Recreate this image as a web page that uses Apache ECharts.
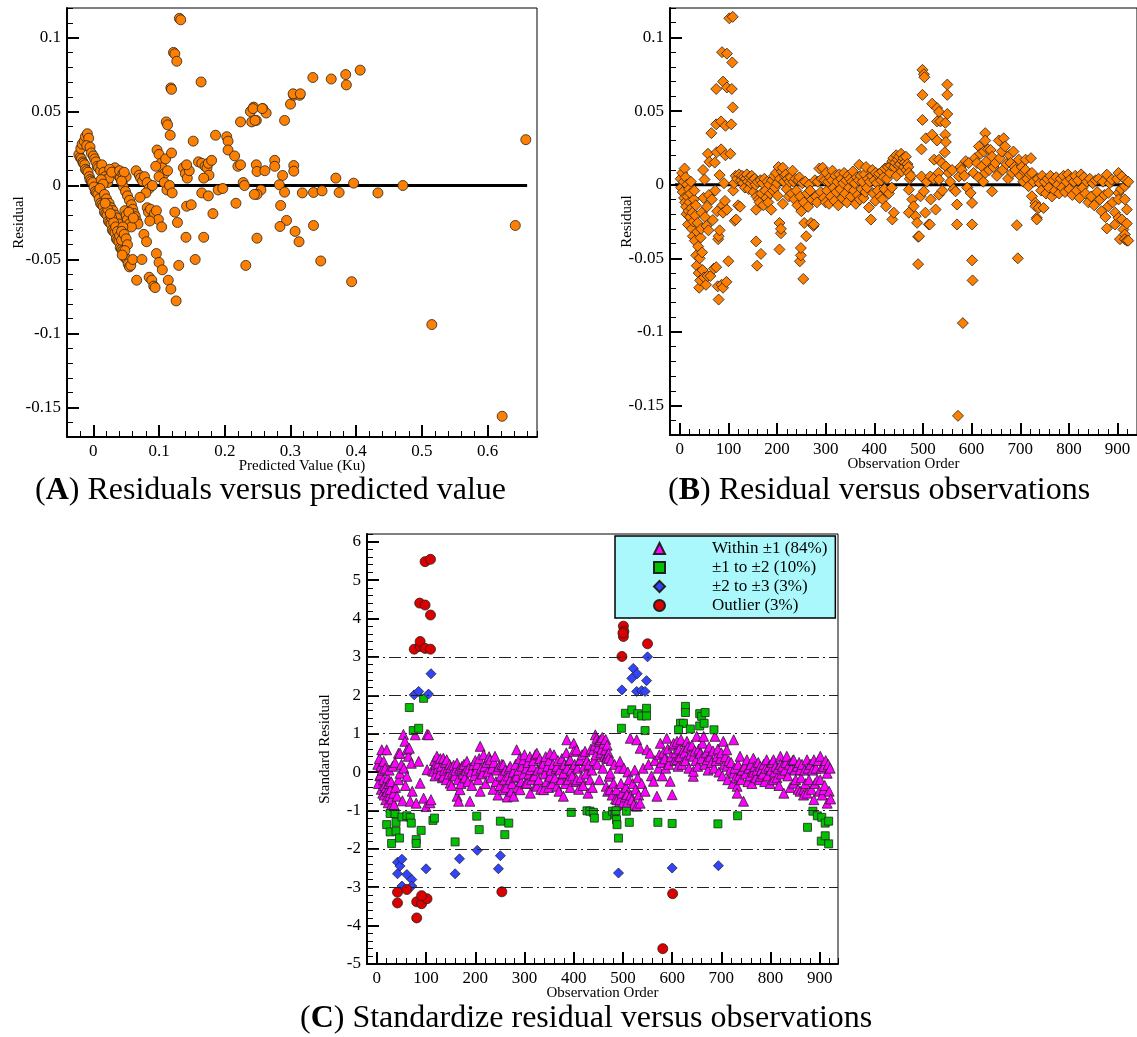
<!DOCTYPE html>
<html><head><meta charset="utf-8">
<script src="https://cdn.jsdelivr.net/npm/echarts@6/dist/echarts.min.js"></script>
<style>html,body{margin:0;padding:0;background:#fff}#c{width:1137px;height:1037px}</style>
</head><body><div id="c"></div>
<script>
// ---------- DATA ----------
// Panel A: [predicted value, residual]
const panelA = [
[-0.022,0.021],[-0.02,0.019],[-0.018,0.018],[-0.016,0.016],[-0.015,0.015],[-0.013,0.014],[-0.012,0.011],[-0.01,0.01],[-0.008,0.009],[-0.006,0.006],[-0.005,0.004],[-0.003,0.003],[-0.001,0.002],[0.001,-0.001],[0.003,-0.004],[0.005,-0.005],[0.007,-0.006],[0.009,-0.009],[0.011,-0.012],[0.013,-0.013],[0.015,-0.014],[0.017,-0.018],[0.019,-0.019],[0.021,-0.02],[0.023,-0.024],[0.025,-0.025],[0.027,-0.026],[0.029,-0.03],[0.031,-0.031],[0.033,-0.032],[0.035,-0.036],[0.037,-0.037],[0.039,-0.038],[0.041,-0.042],[0.043,-0.043],[0.045,-0.044],[0.047,-0.048],[0.049,-0.049],[0.051,-0.05],[0.053,-0.053],[0.055,-0.055],[0.057,-0.054],
[-0.019,0.025],[-0.017,0.028],[-0.014,0.03],[-0.012,0.033],[-0.009,0.035],[-0.007,0.032],[-0.01,0.027],[-0.005,0.026],[-0.003,0.022],[0,0.02],[0.002,0.018],[0.004,0.016],[0.006,0.013],[0.008,0.012],[0.011,0.01],[0.013,0.014],[0.016,0.009],[0.018,0.006],[0.02,0.004],[0.022,0.002],[0.024,0.005],[0.012,0.004],[0.015,0.001],[0.01,-0.002],[0.017,-0.006],[0.02,-0.009],[0.024,-0.012],[0.027,-0.015],[0.03,-0.017],[0.033,-0.02],[0.036,-0.022],[0.039,-0.026],[0.028,-0.022],[0.031,-0.025],[0.034,-0.028],[0.037,-0.031],[0.04,-0.034],[0.043,-0.037],[0.022,-0.016],[0.026,-0.019],[0.018,-0.012],
[0.033,0.012],[0.036,0.009],[0.038,0.007],[0.041,0.005],[0.044,0.002],[0.046,-0.001],[0.049,-0.004],[0.052,-0.007],[0.055,-0.01],[0.058,-0.013],[0.06,-0.016],[0.062,-0.019],[0.064,-0.021],[0.066,-0.024],[0.068,-0.026],
[0.025,0.011],[0.028,0.009],[0.04,0.01],[0.045,0.008],[0.05,0.006],[0.047,0.009],[0.043,0.003],
[0.048,-0.017],[0.05,-0.02],[0.052,-0.023],[0.055,-0.026],[0.058,-0.028],[0.054,-0.018],[0.061,-0.022],[0.045,-0.028],[0.043,-0.031],[0.047,-0.033],[0.05,-0.036],[0.052,-0.04],[0.048,-0.044],[0.044,-0.047],[0.06,-0.05],[0.066,-0.064],[0.074,-0.05],
[0.065,0.01],[0.07,0.007],[0.072,0.005],[0.075,0.003],[0.078,0.006],[0.082,0.002],[0.085,-0.002],[0.08,-0.005],[0.09,0.0],[0.071,-0.008],
[0.077,-0.033],[0.081,-0.038],[0.082,-0.015],[0.084,-0.018],[0.087,-0.016],[0.09,-0.022],[0.093,-0.019],[0.096,-0.017],[0.099,-0.023],[0.104,-0.028],[0.086,-0.024],[0.085,-0.062],[0.089,-0.064],[0.092,-0.068],[0.094,-0.069],[0.096,-0.046],[0.1,-0.052],[0.105,-0.057],[0.114,-0.064],[0.118,-0.07],[0.126,-0.078],
[0.097,0.024],[0.1,0.021],[0.103,0.015],[0.105,0.012],[0.108,0.008],[0.11,0.018],[0.113,0.01],[0.1,0.006],[0.095,0.013],[0.108,0.002],[0.112,-0.003],[0.116,0.0],[0.12,-0.005],[0.111,0.043],[0.113,0.041],[0.117,0.034],[0.119,0.022],[0.118,0.066],[0.119,0.065],[0.122,0.09],[0.124,0.089],[0.127,0.084],[0.131,0.113],[0.133,0.112],[0.124,-0.018],[0.128,-0.025],[0.13,-0.054],
[0.137,0.012],[0.14,0.008],[0.143,0.005],[0.146,0.01],[0.142,0.014],[0.152,0.03],[0.164,0.07],[0.16,0.016],[0.165,0.015],[0.17,0.013],[0.173,0.012],[0.176,0.007],[0.168,0.005],[0.175,0.015],[0.18,0.017],[0.186,0.034],[0.142,-0.014],[0.149,-0.013],[0.141,-0.035],[0.155,-0.05],[0.168,-0.035],[0.182,-0.019],[0.165,-0.005],[0.175,-0.007],[0.19,-0.003],[0.197,-0.002],
[0.203,0.033],[0.205,0.03],[0.205,0.024],[0.215,0.02],[0.22,0.013],[0.224,0.014],[0.224,0.043],[0.228,0.002],[0.23,0.0],[0.239,0.05],[0.244,0.053],[0.248,0.044],[0.258,0.052],[0.263,0.049],[0.241,0.043],[0.246,0.044],[0.243,0.052],[0.257,0.052],[0.248,0.014],[0.249,0.0095],[0.261,0.01],[0.276,0.017],[0.276,0.013],[0.288,0.0068],[0.283,0.0005],[0.255,-0.003],[0.249,-0.006],[0.291,-0.0045],[0.217,-0.012],[0.232,-0.054],[0.249,-0.0356],[0.245,-0.006],[0.285,-0.0135],[0.294,-0.0236],[0.284,-0.0277],[0.291,0.044],[0.3,0.055],
[0.305,0.061],[0.314,0.061],[0.304,0.062],[0.315,0.062],[0.305,0.0135],[0.305,0.0097],[0.307,-0.031],[0.313,-0.038],[0.318,-0.005],[0.335,-0.0047],[0.335,-0.027],[0.334,0.073],[0.346,-0.051],[0.348,-0.0036],[0.362,0.072],[0.369,0.005],[0.374,-0.0047],[0.384,0.075],[0.385,0.068],[0.393,-0.065],[0.396,0.0016],[0.406,0.078],[0.433,-0.005],[0.471,0.0],[0.515,-0.094],[0.622,-0.156],[0.642,-0.027],[0.658,0.031]
];
const zeroLineA = [[-0.02,0],[0.66,0]];

// Panel B: [observation order, residual]
const panelB = [
[2,0.004],[3,-0.002],[5,0.008],[6,-0.005],[8,0.002],[9,-0.009],[10,0.011],[11,-0.012],[12,0.005],[13,-0.015],[14,-0.02],[15,0.0],[16,-0.008],[17,-0.027],[18,-0.018],[19,-0.003],[20,-0.012],[21,-0.022],[22,-0.006],[23,0.002],[24,-0.016],[25,-0.03],[26,-0.019],[27,-0.035],[28,-0.025],[29,-0.01],[30,-0.004],[31,-0.038],[32,-0.021],[33,-0.014],[34,-0.048],[35,-0.055],[36,-0.032],[37,-0.026],[38,-0.042],[39,-0.06],[40,-0.07],[41,-0.05],[42,-0.065],[43,-0.036],[44,-0.03],[45,-0.019],[46,-0.046],[47,-0.058],[48,0.01],[49,-0.009],[50,-0.063],[51,0.0035],[52,-0.022],[54,-0.068],[55,-0.028],[56,-0.015],[57,-0.062],[58,0.021],[59,-0.031],[60,-0.007],
[61,0.0155],[63,-0.062],[65,0.035],[66,-0.01],[68,-0.024],[70,-0.057],[72,0.015],[73,-0.004],[75,0.041],[75,0.065],[75,-0.056],[76,0.022],[77,-0.018],[78,-0.069],[79,-0.037],[80,-0.035],[80,-0.078],[82,0.0065],[82,-0.031],[85,0.043],[85,0.024],[86,-0.068],[87,0.09],[88,-0.014],[89,0.07],[89,-0.019],[89,-0.07],[91,0.001],[93,-0.011],[94,0.04],[94,0.02],[96,-0.066],[97,0.089],[97,0.066],[97,-0.017],[100,-0.052],[102,0.113],[104,0.021],[106,0.041],[107,0.065],[108,0.083],[109,0.114],[109,0.0525],[110,-0.004],[112,0.001],[113,-0.0245],[115,0.006],[116,-0.0236],[118,0.004],[120,-0.014],[122,0.007],[124,-0.015],
[126,0.003],[128,0.006],[130,0.001],[132,0.005],[134,-0.002],[136,0.004],[138,0.007],[140,0.002],[142,-0.003],[144,0.005],[146,0.001],[148,0.006],[150,0.003],[152,-0.005],[154,0.004],[156,0.0],[157,-0.017],[157,-0.0385],[158,-0.008],[159,-0.055],[160,0.002],[162,-0.01],[164,-0.012],[166,0.003],[167,-0.047],[168,-0.006],[170,0.001],[172,-0.014],[174,0.004],[176,-0.004],[178,-0.009],[180,0.002],[182,-0.012],[184,0.0],[186,-0.006],[188,-0.017],[190,0.003],[192,-0.004],[194,0.006],[196,-0.002],[198,0.008],[200,0.001],[201,-0.0075],[203,0.012],[205,-0.026],[205,-0.044],[206,0.004],[208,-0.033],[208,-0.03],[210,0.009],[212,-0.013],[212,0.0115],[214,0.002],[216,0.006],[218,0.007],[220,-0.003],[222,0.004],[224,-0.008],[226,0.002],[228,0.005],
[230,-0.006],[232,0.0095],[234,0.002],[236,-0.01],[238,0.004],[240,-0.004],[242,-0.014],[244,0.003],[246,0.005],[247,-0.052],[248,-0.008],[249,-0.048],[249,-0.043],[250,-0.018],[252,0.001],[254,-0.064],[255,-0.012],[256,-0.026],[258,0.002],[260,-0.035],[262,-0.006],[264,-0.015],[266,0.0],[268,-0.004],[270,-0.026],[272,-0.01],[275,-0.028],[276,-0.027],[278,0.003],[280,-0.008],[282,-0.012],[284,0.002],[287,0.011],[290,-0.005],[292,0.004],[294,0.0115],[296,-0.009],[298,0.003],[300,-0.012],
[301,0.008],[303,-0.004],[305,0.002],[307,-0.013],[309,0.005],[311,-0.008],[313,0.003],[314,0.0095],[316,-0.002],[318,-0.011],[320,0.006],[322,-0.005],[324,0.002],[326,-0.014],[328,0.007],[330,-0.003],[332,0.004],[334,-0.009],[336,0.001],[338,0.008],[340,-0.006],[342,0.003],[344,-0.012],[346,0.006],[348,-0.002],[350,0.004],[352,-0.008],[354,0.002],[356,0.009],[358,-0.004],[360,0.001],[362,-0.013],[364,0.005],[366,-0.007],[368,0.003],[369,0.0135],[370,-0.01],[372,0.006],[374,-0.003],[376,0.002],[378,-0.009],[380,0.007],[382,-0.005],[383,0.012],[385,-0.002],[387,0.004],[389,-0.0155],[391,0.002],[393,-0.0237],[395,0.006],[396,0.01],[398,-0.006],[400,0.003],[402,-0.011],[403,0.008],[405,0.001],[407,-0.004],[409,0.006],[410,0.0075],[412,-0.008],[414,0.003],[416,0.009],[417,-0.01],[419,0.005],[421,-0.003],[422,0.011],[424,-0.0147],[426,0.004],[428,0.012],[430,-0.006],[432,0.008],[434,0.013],[436,-0.002],[437,0.016],[437,-0.0236],[439,0.018],[440,-0.019],
[441,0.012],[443,0.015],[445,0.02],[446,0.006],[448,0.017],[450,0.013],[451,0.019],[453,0.014],[455,0.021],[456,0.009],[458,0.016],[460,0.018],[461,0.012],[463,0.015],[465,0.019],[466,0.01],[468,0.014],[470,0.012],[471,0.008],[471,-0.0034],[471,-0.019],[473,0.004],[475,0.006],[478,-0.01],[481,-0.0147],[485,-0.0214],[488,-0.0259],[490,-0.0354],[490,-0.054],[492,-0.035],
[495,-0.0079],[497,0.024],[497,0.0056],[499,0.078],[499,0.061],[499,0.044],[502,0.075],[502,-0.0045],[503,0.073],[505,-0.019],[506,0.0315],[508,0.002],[512,-0.027],[514,-0.027],[515,0.0056],[516,-0.01],[519,0.055],[519,0.034],[522,0.004],[523,0.017],[526,-0.0169],[529,0.052],[529,0.043],[529,0.03],[532,0.008],[533,0.0495],[533,0.017],[533,0.0034],[533,-0.0068],[536,0.043],[539,0.0147],[540,-0.004],[545,0.022],[546,0.034],[546,0.042],[547,0.029],[547,0.0124],[550,0.068],[550,0.061],[550,0.048],[553,0.008],[556,0.002],[560,0.01],
[563,-0.003],[567,-0.0045],[570,-0.0135],[570,-0.027],[572,-0.157],[574,0.0056],[577,0.012],[580,0.01],[582,-0.094],[585,0.006],[588,0.016],[591,-0.002],[594,0.0147],[598,-0.0056],[601,-0.0124],[601,-0.027],[601,-0.0514],[602,-0.065],[604,0.008],[607,0.018],[611,0.0147],[614,0.005],[615,0.026],[618,0.021],[621,0.0124],[624,0.002],[625,0.0225],[628,0.035],[628,0.03],[628,0.008],[631,0.016],[634,0.024],[636,0.01],[639,0.0236],[642,0.019],[642,-0.0045],[645,0.012],[649,0.0147],[652,0.006],[656,0.03],[658,0.018],[662,0.0225],[664,0.01],[666,0.0315],[669,0.026],[672,0.014],[675,0.004],[678,0.02],[680,0.0147],[683,0.008],[686,0.0225],[688,0.012],[690,0.01],[693,-0.0275],[695,-0.05],[697,0.017],[700,0.006],[703,0.012],[706,0.002],[708,0.009],[711,0.017],[711,0.01],[714,0.004],[717,-0.001],[720,0.007],
[722,0.018],[724,0.008],[724,-0.0079],[727,0.002],[731,-0.0124],[731,-0.0146],[734,-0.0225],[734,-0.0236],[736,0.004],[738,-0.0157],[740,0.001],[743,-0.004],[745,0.006],[748,-0.0158],[750,0.002],[753,-0.006],[756,0.004],[759,-0.002],[762,0.006],[765,-0.008],[768,0.003],[771,-0.004],[774,0.005],[777,0.0],[780,-0.006],[783,0.004],[786,-0.002],[789,0.006],[792,-0.005],[795,0.002],[798,0.007],[801,-0.003],[804,0.004],[807,-0.007],[810,0.002],[813,0.006],[816,-0.004],[819,0.003],[822,-0.009],[825,0.007],[828,-0.002],[831,0.005],[834,-0.006],[837,0.002],[840,-0.012],[843,0.004],[846,-0.008],[849,0.001],[852,-0.014],[855,0.003],[858,-0.005],
[861,0.004],[864,-0.01],[867,-0.018],[870,0.002],[873,-0.007],[875,-0.022],[878,0.0068],[878,-0.0297],[881,-0.0147],[881,-0.0056],[884,0.001],[888,0.0034],[890,-0.012],[895,-0.019],[895,-0.027],[899,0.004],[902,0.008],[902,-0.0056],[902,-0.01],[902,-0.0225],[905,-0.037],[907,-0.003],[909,0.0056],[909,-0.0236],[912,-0.0304],[915,-0.001],[915,-0.01],[915,-0.0338],[915,-0.037],[917,0.003],[919,-0.0169],[919,-0.0264],[919,-0.038],[922,-0.038],[922,0.002]
];
const zeroLineB = [[-10,0],[920,0]];

// Panel C: [observation order, standard residual], grouped by band
const cWithin1 = [
[2,0.2],[3,-0.3],[5,0.35],[6,-0.1],[7,-0.07],[8,0.15],[9,-0.45],[10,0.58],[11,0.05],[12,-0.55],[13,-0.2],[14,0.28],[15,-0.6],[16,-0.35],[17,0.1],[18,-0.72],[19,-0.4],[20,0.58],[21,-0.5],[22,-0.15],[23,-0.8],[24,-0.3],[25,0.05],[26,-0.62],[27,-0.45],[28,-0.9],[29,-0.25],[30,-0.7],[32,0.15],[34,-0.55],[35,-0.85],[37,0.25],[38,-0.4],[41,-0.63],[44,0.49],[44,-0.2],[47,-0.03],[47,0.49],[50,0.2],[52,-0.75],[54,0.98],[55,0.1],[57,0.8],[58,-0.35],[61,0.58],[61,-0.11],[64,0.41],[66,0.62],[68,-0.76],[70,0.23],[72,-0.5],[78,0.97],[80,-0.81],[85,0.28],[88,-0.29],[95,-0.68],[100,-0.9],[102,0.98],[102,0.06],[105,0.97],[108,-0.8],[110,-0.72],
[112,0.05],[115,0.02],[117,0.3],[118,-0.1],[120,0.2],[122,0.41],[124,0.1],[125,0.23],[127,-0.05],[129,0.35],[131,0.15],[133,-0.15],[135,0.36],[135,-0.11],[137,0.05],[139,0.25],[141,-0.2],[142,0.32],[144,0.1],[146,-0.05],[148,0.2],[149,-0.29],[150,0.12],[152,-0.35],[154,0.0],[156,0.18],[158,-0.1],[160,0.05],[163,0.23],[163,-0.63],[165,-0.2],[166,-0.76],[168,0.1],[169,-0.46],[171,-0.3],[173,0.15],[175,-0.05],[177,0.2],[179,-0.15],[181,0.05],[183,0.28],[185,-0.25],[187,0.1],[189,-0.76],[191,0.0],[193,-0.35],[196,0.19],[198,-0.1],[200,0.3],[202,0.05],[204,0.2],[206,-0.2],[208,0.35],[210,0.67],[210,-0.5],[212,0.1],[214,-0.05],[217,0.45],[219,0.15],[221,-0.3],[223,0.25],[225,0.0],[228,0.4],[230,0.32],
[232,-0.15],[234,0.1],[236,-0.45],[238,0.25],[240,0.41],[242,-0.25],[244,0.05],[246,-0.6],[248,0.15],[250,-0.35],[252,-0.1],[254,0.2],[257,0.19],[257,-0.46],[259,-0.2],[261,0.05],[263,-0.4],[265,-0.65],[267,-0.1],[269,0.1],[271,0.15],[271,-0.2],[273,-0.5],[275,-0.3],[277,0.0],[278,-0.63],[280,-0.15],[282,0.2],[284,0.58],[284,-0.11],[286,-0.4],[288,0.05],[290,0.35],[291,-0.46],[293,-0.25],[295,0.15],[298,0.32],[298,-0.05],
[300,0.45],[302,-0.3],[304,0.1],[305,-0.29],[307,0.25],[309,-0.05],[311,0.4],[312,0.06],[312,-0.55],[314,-0.2],[316,0.15],[318,0.3],[320,-0.1],[322,0.45],[323,-0.35],[325,0.49],[325,-0.37],[327,0.05],[329,-0.2],[331,0.35],[333,-0.45],[335,0.1],[337,0.25],[339,0.23],[339,-0.46],[341,-0.05],[343,0.4],[345,-0.25],[347,0.15],[349,-0.4],[350,0.3],[352,-0.11],[352,0.49],[354,0.05],[356,-0.3],[358,0.2],[360,0.45],[362,-0.15],[364,0.1],[366,-0.37],[366,0.15],[368,0.3],[370,-0.5],[372,0.05],[374,-0.2],[376,0.35],[378,-0.05],[379,-0.63],[379,-0.03],[381,0.2],[383,-0.3],[385,0.5],[386,0.84],[387,0.1],[389,-0.2],[391,0.3],[393,0.32],[393,-0.4],[395,0.05],[397,-0.1],[400,0.75],[400,0.54],[402,0.2],[404,-0.25],[406,0.58],[406,-0.2],[408,0.1],[410,-0.45],[412,0.3],[413,0.32],[415,-0.15],[417,0.45],[419,-0.35],[421,0.15],[423,0.54],[425,-0.05],[427,0.3],[429,-0.55],[431,0.2],[433,-0.2],[435,0.6],[437,0.05],[438,-0.4],
[440,0.58],[441,0.3],[443,0.7],[444,0.97],[445,0.45],[447,0.88],[448,0.2],[450,0.65],[451,0.8],[452,-0.2],[454,0.84],[455,0.5],[457,0.6],[458,0.9],[459,0.1],[461,0.75],[462,0.4],[464,0.58],[465,0.85],[466,-0.37],[467,0.41],[467,0.36],[468,0.7],[469,-0.5],[471,0.49],[471,0.36],[472,-0.11],[474,-0.03],[474,-0.46],[476,0.3],[478,-0.6],[481,-0.29],[483,0.2],[485,-0.7],[487,-0.46],[488,-0.72],[490,-0.85],[492,0.1],
[494,0.28],[494,-0.72],[496,-0.3],[498,-0.55],[500,-0.8],[502,0.1],[504,-0.65],[506,-0.4],[508,-0.59],[508,-0.81],[510,0.0],[512,-0.2],[515,0.88],[516,-0.6],[518,-0.72],[520,-0.3],[522,-0.85],[524,0.05],[526,-0.45],[528,0.84],[528,-0.89],[530,-0.15],[532,-0.6],[535,0.62],[535,-0.81],[538,-0.3],[541,0.1],[545,-0.5],[549,0.58],[552,0.2],[555,0.49],[558,-0.1],
[562,-0.24],[565,0.3],[569,-0.63],[572,0.1],[574,0.45],[576,0.75],[578,0.25],[580,-0.1],[582,0.5],[585,0.35],[587,0.1],[589,0.88],[591,0.6],[593,0.2],[596,-0.24],[598,0.4],[600,-0.59],[602,0.7],[603,0.75],[605,0.3],[607,0.5],[610,0.8],[610,0.32],[612,0.15],[614,0.6],[616,0.4],[618,0.85],[620,0.2],[623,0.58],[625,0.5],[627,0.3],[630,0.8],[632,0.65],[634,0.1],[637,0.45],[640,0.7],[643,0.41],[643,-0.11],[643,0.02],[646,0.55],[648,0.3],[650,0.93],[652,0.15],[654,0.6],[657,0.49],[660,0.35],[662,0.75],[664,0.93],[666,0.2],[669,0.5],[671,0.32],[673,0.05],[675,0.65],[677,0.4],[680,0.25],[683,0.55],[685,0.1],[687,0.93],[689,0.3],[691,0.41],[693,0.6],[695,0.0],[698,0.35],[700,0.5],[702,-0.1],[704,0.8],[706,0.2],[708,0.4],[711,0.15],[711,0.58],[713,-0.2],[715,0.3],[718,0.05],[720,0.25],
[723,-0.3],[725,0.84],[725,-0.03],[727,0.1],[729,-0.15],[732,-0.37],[732,-0.55],[734,0.2],[736,-0.1],[738,0.41],[740,-0.2],[742,0.05],[745,-0.76],[747,0.15],[749,-0.05],[752,0.32],[754,-0.25],[756,0.1],[758,-0.1],[760,0.2],[762,-0.3],[765,0.36],[765,0.0],[768,0.15],[770,-0.15],[772,0.05],[775,0.25],[777,-0.2],[779,0.15],[779,-0.11],[781,0.05],[784,-0.05],[786,0.2],[788,-0.25],[790,0.1],[792,0.32],[794,-0.1],[797,0.15],[799,-0.3],[801,0.05],[803,0.25],[806,0.32],[806,-0.2],[808,0.0],[810,0.15],[813,-0.15],[815,0.1],[817,-0.35],[820,0.41],[820,0.2],[822,-0.05],[824,0.15],[827,-0.55],[829,0.05],[831,0.25],[833,0.41],[835,-0.1],[838,0.2],[840,-0.4],[842,0.1],[845,0.3],[847,0.32],[847,-0.29],[849,0.05],[851,-0.2],[854,0.15],[856,-0.45],[858,0.25],[860,0.06],[860,-0.5],[862,-0.15],[864,0.2],[867,-0.46],[867,-0.6],[869,0.05],[871,-0.3],[874,0.32],[874,-0.55],[876,0.1],[878,-0.2],[881,0.2],[883,-0.45],[885,0.05],[888,0.32],[888,-0.72],[890,-0.3],[892,0.1],[895,-0.2],[897,0.3],[899,-0.5],[901,0.41],[901,-0.2],[903,0.1],[905,-0.6],[908,0.15],[908,-0.46],[910,-0.35],[912,0.3],[915,-0.03],[915,-0.81],[917,0.2],[919,-0.5],[921,0.1],[922,-0.7]
];
const cOneToTwo = [
[66,1.68],[95,1.92],[74,1.08],[85,1.14],
[497,1.14],[505,1.53],[518,1.62],[530,1.52],[538,1.46],[548,1.66],[548,1.46],[545,1.08],
[617,1.27],[623,1.27],[613,1.1],[627,1.71],[627,1.55],[637,1.12],[656,1.52],[660,1.45],[667,1.55],[656,1.2],[665,1.27],[685,1.1],
[20,-1.37],[27,-1.08],[27,-1.56],[30,-1.86],[37,-1.08],[39,-1.31],[39,-1.54],[46,-1.72],[51,-1.17],[61,-1.14],[68,-1.18],[70,-1.33],[80,-1.76],[80,-1.86],[90,-1.52],[114,-1.26],[117,-1.2],
[159,-1.82],[203,-1.15],[208,-1.5],[260,-1.63],[251,-1.28],[268,-1.33],
[395,-1.05],[427,-1.01],[433,-1.02],[440,-1.05],[442,-1.2],[467,-1.14],[479,-1.02],[484,-1.11],[487,-1.24],[488,-1.37],[486,-1.01],[491,-1.72],[507,-1.02],[513,-1.31],[571,-1.31],[600,-1.34],[693,-1.35],[733,-1.14],
[875,-1.44],[886,-1.02],[895,-1.14],[904,-1.18],[911,-1.33],[918,-1.28],[903,-1.8],[911,-1.66],[918,-1.87]
];
const cTwoToThree = [
[110,2.56],[76,2.01],[85,2.1],[105,2.03],
[550,3.0],[521,2.7],[529,2.56],[518,2.44],[498,2.14],[528,2.1],[538,2.12],[548,2.38],[545,2.1],
[42,-2.35],[47,-2.45],[42,-2.65],[51,-2.27],[61,-2.67],[71,-2.8],[51,-2.97],[71,-2.97],[100,-2.52],[159,-2.65],[168,-2.26],[204,-2.04],[251,-2.18],[247,-2.52],
[491,-2.63],[600,-2.5],[694,-2.44]
];
const cOutlier = [
[98,5.48],[109,5.54],[87,4.4],[98,4.35],[109,4.09],[76,3.2],[88,3.27],[88,3.4],[98,3.22],[109,3.2],
[498,3.01],[501,3.8],[502,3.66],[501,3.53],[500,3.62],[550,3.34],
[42,-3.13],[42,-3.41],[61,-3.06],[81,-3.38],[91,-3.43],[102,-3.3],[91,-3.22],[81,-3.8],[254,-3.12],
[581,-4.6],[601,-3.17]
];
const refLevelsC = [3, 2, 1, -1, -2, -3];

// Tick labels
const ticksAy = [-0.15,-0.1,-0.05,0,0.05,0.1];
const ticksAx = [0,0.1,0.2,0.3,0.4,0.5,0.6];
const ticksBy = [-0.15,-0.1,-0.05,0,0.05,0.1];
const ticksBx = [0,100,200,300,400,500,600,700,800,900];
const ticksCy = [-5,-4,-3,-2,-1,0,1,2,3,4,5,6];
const ticksCx = [0,100,200,300,400,500,600,700,800,900];

const legendNames = ['Within \u00b11 (84%)', '\u00b11 to \u00b12 (10%)', '\u00b12 to \u00b13 (3%)', 'Outlier (3%)'];

// ---------- CHART ----------
const FONT = "'Liberation Serif','Times New Roman',serif";
const fmt = v => String(+(+v).toFixed(3));
function minorAxis(grid, min, max, interval, name, nameGap, isY) {
  return {
    type: 'value', gridIndex: grid, min: min, max: max, interval: interval,
    position: isY ? 'left' : 'bottom',
    axisLine: {show: true, onZero: false, lineStyle: {color: '#000', width: 2}},
    axisTick: {show: true, inside: true, length: 6, lineStyle: {color: '#000', width: 1}},
    axisLabel: {show: false}, splitLine: {show: false},
    name: name, nameLocation: 'middle', nameGap: nameGap, nameRotate: isY ? 90 : 0,
    nameTextStyle: {fontFamily: FONT, fontSize: 15, color: '#000'}
  };
}
function majorAxis(grid, min, max, vals, isY) {
  return {
    type: 'value', gridIndex: grid, min: min, max: max,
    position: isY ? 'left' : 'bottom',
    axisLine: {show: false, onZero: false},
    axisTick: {show: true, inside: true, length: 12, customValues: vals, lineStyle: {color: '#000', width: 2}},
    axisLabel: {show: true, customValues: vals, formatter: fmt, fontFamily: FONT, fontSize: 17, color: '#000', margin: 6},
    splitLine: {show: false}
  };
}
const chart = echarts.init(document.getElementById('c'), null, {renderer: 'canvas'});
const ptStyle = {color: '#ff8000', borderColor: '#222', borderWidth: 0.8, opacity: 1};
const option = {
  animation: false,
  backgroundColor: '#fff',
  grid: [
    {left: 67, top: 8, width: 470, height: 429, show: true, borderColor: '#000', borderWidth: 1},
    {left: 670, top: 8, width: 469, height: 427, show: true, borderColor: '#000', borderWidth: 1},
    {left: 367, top: 534, width: 471, height: 430, show: true, borderColor: '#000', borderWidth: 1}
  ],
  xAxis: [
    minorAxis(0, -0.04, 0.675, 0.02, 'Predicted Value (Ku)', 22, false),
    majorAxis(0, -0.04, 0.675, ticksAx, false),
    minorAxis(1, -20, 940, 20, 'Observation Order', 22, false),
    majorAxis(1, -20, 940, ticksBx, false),
    minorAxis(2, -20, 937, 20, 'Observation Order', 22, false),
    majorAxis(2, -20, 937, ticksCx, false)
  ],
  yAxis: [
    minorAxis(0, -0.17, 0.12, 0.01, 'Residual', 40, true),
    majorAxis(0, -0.17, 0.12, ticksAy, true),
    minorAxis(1, -0.17, 0.12, 0.01, 'Residual', 35, true),
    majorAxis(1, -0.17, 0.12, ticksBy, true),
    minorAxis(2, -5, 6.2, 0.2, 'Standard Residual', 34, true),
    majorAxis(2, -5, 6.2, ticksCy, true)
  ],
  legend: {
    orient: 'vertical', left: 615, top: 536, width: 223,
    backgroundColor: '#aaf8fb', borderColor: '#000', borderWidth: 1.5,
    padding: [4, 8, 4, 38], itemGap: 2, itemWidth: 11, itemHeight: 11,
    textStyle: {fontFamily: FONT, fontSize: 17, color: '#000', padding: [0, 0, 0, 42]},
    data: [
      {name: legendNames[0], icon: 'triangle'},
      {name: legendNames[1], icon: 'rect'},
      {name: legendNames[2], icon: 'diamond'},
      {name: legendNames[3], icon: 'circle'}
    ]
  },
  graphic: [
    {type: 'text', left: 35, top: 475, style: {text: '({b|A}) Residuals versus predicted value', font: "32px " + FONT, fill: '#000', rich: {b: {fontWeight: 'bold', fontFamily: FONT, fontSize: 32}}}},
    {type: 'text', left: 668, top: 475, style: {text: '({b|B}) Residual versus observations', font: "32px " + FONT, fill: '#000', rich: {b: {fontWeight: 'bold', fontFamily: FONT, fontSize: 32}}}},
    {type: 'text', left: 300, top: 1003, style: {text: '({b|C}) Standardize residual versus observations', font: "32px " + FONT, fill: '#000', rich: {b: {fontWeight: 'bold', fontFamily: FONT, fontSize: 32}}}}
  ],
  series: [
    {type: 'line', xAxisIndex: 0, yAxisIndex: 0, data: zeroLineA, symbol: 'none', lineStyle: {color: '#000', width: 3}, z: 1, silent: true},
    {type: 'scatter', xAxisIndex: 0, yAxisIndex: 0, data: panelA, symbol: 'circle', symbolSize: 10, itemStyle: ptStyle, z: 2},
    {type: 'line', xAxisIndex: 2, yAxisIndex: 2, data: zeroLineB, symbol: 'none', lineStyle: {color: '#000', width: 3}, z: 1, silent: true},
    {type: 'scatter', xAxisIndex: 2, yAxisIndex: 2, data: panelB, symbol: 'diamond', symbolSize: 11, itemStyle: ptStyle, z: 2},
    {type: 'scatter', name: legendNames[0], xAxisIndex: 4, yAxisIndex: 4, data: cWithin1, symbol: 'triangle', symbolSize: 10,
      itemStyle: {color: '#ff00ff', borderColor: '#222', borderWidth: 0.8, opacity: 1}, z: 2,
      markLine: {silent: true, symbol: 'none', animation: false, label: {show: false},
        lineStyle: {color: '#222', width: 1, type: [12, 4, 2, 4]},
        data: refLevelsC.map(v => ({yAxis: v}))}},
    {type: 'scatter', name: legendNames[1], xAxisIndex: 4, yAxisIndex: 4, data: cOneToTwo, symbol: 'rect', symbolSize: 8,
      itemStyle: {color: '#00c000', borderColor: '#222', borderWidth: 0.8, opacity: 1}, z: 3},
    {type: 'scatter', name: legendNames[2], xAxisIndex: 4, yAxisIndex: 4, data: cTwoToThree, symbol: 'diamond', symbolSize: 10,
      itemStyle: {color: '#3344ff', borderColor: '#222', borderWidth: 0.8, opacity: 1}, z: 3},
    {type: 'scatter', name: legendNames[3], xAxisIndex: 4, yAxisIndex: 4, data: cOutlier, symbol: 'circle', symbolSize: 10,
      itemStyle: {color: '#dd0000', borderColor: '#222', borderWidth: 0.8, opacity: 1}, z: 3}
  ]
};
chart.setOption(option);
</script></body></html>
